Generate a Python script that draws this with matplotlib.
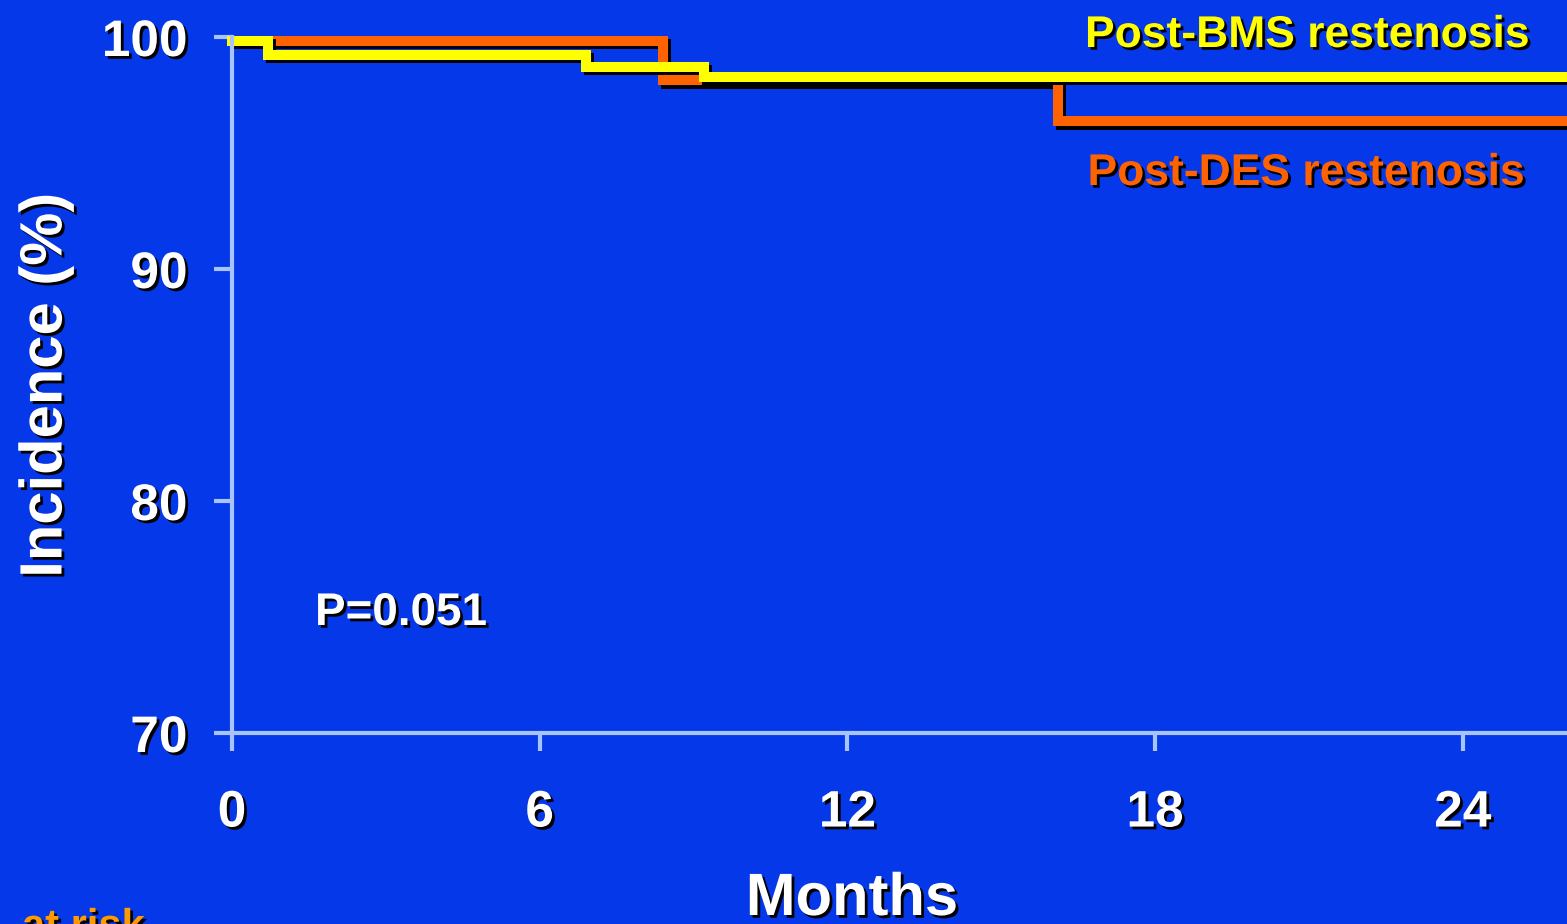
import matplotlib
matplotlib.use("Agg")
import matplotlib.pyplot as plt
import matplotlib.patheffects as pe
from matplotlib.transforms import ScaledTranslation

# Kaplan-Meier style curves (months, % free of event)
months_bms = [0, 0.7, 6.9, 9.2, 26.5]
incidence_bms = [100, 99.4, 98.9, 98.45, 98.45]
months_des = [0, 8.4, 16.1, 26.5]
incidence_des = [100, 98.3, 96.55, 96.55]

x_ticks = [0, 6, 12, 18, 24]
y_ticks = [70, 80, 90, 100]
p_value = "P=0.051"

BG = "#0538E8"
AXIS = "#A8C4FF"
YELLOW = "#FFFF00"
ORANGE = "#FF6200"

W, H = 1567, 924
plt.rcParams["font.family"] = ["Liberation Sans", "DejaVu Sans"]
plt.rcParams["font.weight"] = "bold"

fig = plt.figure(figsize=(W / 100, H / 100), dpi=100, facecolor=BG)
ax = fig.add_axes([232 / W, 1 - 733 / H, 1 - 232 / W, (733 - 37) / H])
ax.set_facecolor(BG)
ax.set_xlim(0, (W - 232) / 51.28)
ax.set_ylim(70, 100)

for s in ["top", "right"]:
    ax.spines[s].set_visible(False)
for s in ["left", "bottom"]:
    ax.spines[s].set_color(AXIS)
    ax.spines[s].set_linewidth(3)

ax.set_xticks(x_ticks)
ax.set_yticks(y_ticks)
txt_shadow = [pe.withSimplePatchShadow(offset=(2, -2), shadow_rgbFace="k", alpha=1.0)]
ax.tick_params(axis="both", colors=AXIS, length=13, width=3, direction="out")
ax.tick_params(axis="x", pad=27, labelsize=37, labelcolor="white")
ax.tick_params(axis="y", pad=19, labelsize=37, labelcolor="white")
for lab in ax.get_xticklabels() + ax.get_yticklabels():
    lab.set_fontweight("bold")
    lab.set_path_effects(txt_shadow)

# curves sit a few pixels under their gridline level
shift = ax.transData + ScaledTranslation(0, -4 / 100, fig.dpi_scale_trans)
line_fx = [pe.SimpleLineShadow(offset=(2.5, -2.5), shadow_color="k", alpha=1.0), pe.Normal()]
ax.step(months_des, incidence_des, where="post", color=ORANGE, lw=7.2,
        clip_on=False, transform=shift, path_effects=line_fx, solid_joinstyle="miter")
ax.step(months_bms, incidence_bms, where="post", color=YELLOW, lw=7.2,
        clip_on=False, transform=shift, path_effects=line_fx, solid_joinstyle="miter")


def px(x, y):
    return x / W, 1 - y / H


fig.text(*px(1530, 47), "Post-BMS restenosis", color=YELLOW, fontsize=32,
         fontweight="bold", ha="right", va="baseline", path_effects=txt_shadow)
fig.text(*px(1525, 185), "Post-DES restenosis", color=ORANGE, fontsize=32,
         fontweight="bold", ha="right", va="baseline", path_effects=txt_shadow)
fig.text(*px(315, 625), p_value, color="white", fontsize=33,
         fontweight="bold", ha="left", va="baseline", path_effects=txt_shadow)
fig.text(*px(852, 915), "Months", color="white", fontsize=43,
         fontweight="bold", ha="center", va="baseline", path_effects=txt_shadow)
fig.text(*px(46, 385), "Incidence (%)", color="white", fontsize=43, rotation=90,
         fontweight="bold", ha="center", va="center", path_effects=txt_shadow)
fig.text(*px(22, 907), "at risk", color="#FF9A00", fontsize=30,
         fontweight="bold", ha="left", va="top", path_effects=txt_shadow)

fig.savefig("out.png", dpi=100, facecolor=BG)
